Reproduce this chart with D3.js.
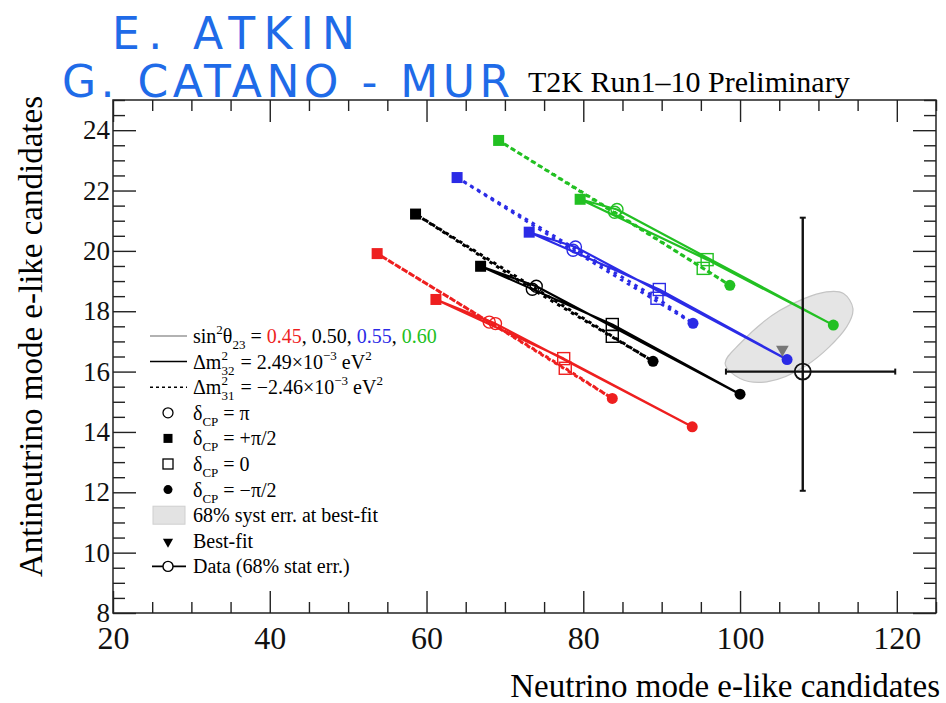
<!DOCTYPE html>
<html>
<head>
<meta charset="utf-8">
<script src="https://cdn.jsdelivr.net/npm/d3@7"></script>
<style>
  body { margin: 0; background: #fff; }
  svg { display: block; }
  text { font-family: "Liberation Serif", "Times New Roman", serif; white-space: pre; }
</style>
</head>
<body>
<div id="chart"></div>
<script>
// sin^2(theta23) hypotheses, one contour colour each
var sin2Labels = ["0.45", "0.50", "0.55", "0.60"];
var sin2Colors = ["#ee1f1f", "#000000", "#2b2be6", "#22c022"];

// points on each contour, in this order of delta_CP
var deltaOrder = ["+pi/2", "pi", "-pi/2", "0"];

// normal ordering (solid), dm2_32 = 2.49e-3
var noNu = [
  [61.2, 68.8, 93.9, 77.5],
  [66.9, 74.0, 100.0, 83.7],
  [73.1, 79.0, 106.0, 89.7],
  [79.6, 84.3, 111.9, 95.8]
];
var noNubar = [
  [18.39, 17.59, 14.17, 16.43],
  [19.49, 18.83, 15.25, 17.56],
  [20.62, 20.13, 16.40, 18.72],
  [21.71, 21.37, 17.54, 19.71]
];

// inverted ordering (dashed), dm2_31 = -2.46e-3
var ioNu = [
  [53.7, 68.0, 83.7, 77.7],
  [58.6, 73.5, 88.9, 83.7],
  [63.9, 78.7, 94.0, 89.4],
  [69.2, 84.0, 98.7, 95.3]
];
var ioNubar = [
  [19.91, 17.64, 15.11, 16.11],
  [21.22, 18.73, 16.34, 17.17],
  [22.43, 20.02, 17.60, 18.43],
  [23.66, 21.28, 18.86, 19.42]
];

// 68% syst err outline at best fit
var systNu = [98.1, 100.0, 103.4, 108.5, 113.6, 114.4, 113.2, 111.0, 105.1, 100.0];
var systNubar = [16.27, 15.77, 15.66, 16.21, 17.48, 18.09, 18.59, 18.64, 18.03, 16.93];

var bestFit = [105.4, 16.77];
var dataPoint = [108, 16];
var dataNuErr = [98.2, 119.8];
var dataNubarErr = [12.05, 21.1];

var xMajor = [20, 40, 60, 80, 100, 120];
var yMajor = [8, 10, 12, 14, 16, 18, 20, 22, 24];

(function() {
  var W = 946, H = 703;
  var padL = 113, padR = 936, padT = 100, padB = 613;

  var svg = d3.select("#chart").append("svg")
    .attr("width", W)
    .attr("height", H);

  var x = d3.scaleLinear().domain([20, 125]).range([padL, padR]);
  var y = d3.scaleLinear().domain([8, 25]).range([padB, padT]);

  // handwritten names
  svg.append("text")
    .attr("x", 112).attr("y", 49)
    .attr("textLength", 243).attr("lengthAdjust", "spacing")
    .style("font-family", "DejaVu Sans").style("font-size", "44px")
    .attr("fill", "#1f6be8")
    .text("E. ATKIN");
  svg.append("text")
    .attr("x", 62).attr("y", 97)
    .attr("textLength", 448).attr("lengthAdjust", "spacing")
    .style("font-family", "DejaVu Sans").style("font-size", "44px")
    .attr("fill", "#1f6be8")
    .text("G. CATANO - MUR");

  svg.append("text")
    .attr("x", 528).attr("y", 92)
    .style("font-size", "30px")
    .text("T2K Run1\u201310 Preliminary");

  svg.append("clipPath").attr("id", "frameclip")
    .append("rect")
    .attr("x", padL).attr("y", padT)
    .attr("width", padR - padL).attr("height", padB - padT);

  var plot = svg.append("g").attr("clip-path", "url(#frameclip)");

  // syst ellipse
  var systPts = systNu.map(function(v, i) { return [v, systNubar[i]]; });
  plot.append("path")
    .attr("d", d3.line().x(function(d) { return x(d[0]); }).y(function(d) { return y(d[1]); })
      .curve(d3.curveCatmullRomClosed)(systPts))
    .attr("fill", "#e5e5e5")
    .attr("stroke", "#c4c4c4")
    .attr("stroke-width", 1.2);

  var contour = d3.line()
    .x(function(d) { return x(d[0]); })
    .y(function(d) { return y(d[1]); })
    .curve(d3.curveLinearClosed);

  var drawMarker = function(g, px, py, kind, color) {
    if (kind == "+pi/2") {
      g.append("rect").attr("x", px - 5.5).attr("y", py - 5.5)
        .attr("width", 11).attr("height", 11).attr("fill", color);
    } else if (kind == "-pi/2") {
      g.append("circle").attr("cx", px).attr("cy", py).attr("r", 5.5).attr("fill", color);
    } else if (kind == "pi") {
      g.append("circle").attr("cx", px).attr("cy", py).attr("r", 6)
        .attr("fill", "none").attr("stroke", color).attr("stroke-width", 1.4);
    } else {
      g.append("rect").attr("x", px - 6).attr("y", py - 6)
        .attr("width", 12).attr("height", 12)
        .attr("fill", "none").attr("stroke", color).attr("stroke-width", 1.4);
    }
  };

  for (var c = 0; c < sin2Labels.length; c++) {
    var col = sin2Colors[c];
    var io = ioNu[c].map(function(v, i) { return [v, ioNubar[c][i]]; });
    var no = noNu[c].map(function(v, i) { return [v, noNubar[c][i]]; });

    plot.append("path")
      .attr("d", contour(io))
      .attr("fill", "none")
      .attr("stroke", col)
      .attr("stroke-width", 3)
      .attr("stroke-dasharray", "3.5,4.5");
    plot.append("path")
      .attr("d", contour(no))
      .attr("fill", "none")
      .attr("stroke", col)
      .attr("stroke-width", 2.2)
      .attr("stroke-linejoin", "round");

    for (var k = 0; k < deltaOrder.length; k++) {
      drawMarker(plot, x(io[k][0]), y(io[k][1]), deltaOrder[k], col);
      drawMarker(plot, x(no[k][0]), y(no[k][1]), deltaOrder[k], col);
    }
  }

  // best fit
  plot.append("path")
    .attr("d", d3.symbol().type(d3.symbolTriangle).size(70)())
    .attr("transform", "translate(" + x(bestFit[0]) + "," + (y(bestFit[1]) + 1) + ") rotate(180)")
    .attr("fill", "#777");

  // data with stat error
  var dx = x(dataPoint[0]), dy = y(dataPoint[1]);
  plot.append("line")
    .attr("x1", x(dataNuErr[0])).attr("x2", x(dataNuErr[1]))
    .attr("y1", dy).attr("y2", dy)
    .attr("stroke", "#111").attr("stroke-width", 2.4);
  plot.append("line")
    .attr("x1", dx).attr("x2", dx)
    .attr("y1", y(dataNubarErr[0])).attr("y2", y(dataNubarErr[1]))
    .attr("stroke", "#111").attr("stroke-width", 2.4);
  [[x(dataNuErr[0]), dy, 0], [x(dataNuErr[1]), dy, 0], [dx, y(dataNubarErr[0]), 1], [dx, y(dataNubarErr[1]), 1]].forEach(function(e) {
    plot.append("line")
      .attr("x1", e[2] ? e[0] - 3 : e[0]).attr("x2", e[2] ? e[0] + 3 : e[0])
      .attr("y1", e[2] ? e[1] : e[1] - 3).attr("y2", e[2] ? e[1] : e[1] + 3)
      .attr("stroke", "#111").attr("stroke-width", 2);
  });
  plot.append("circle")
    .attr("cx", dx).attr("cy", dy).attr("r", 8)
    .attr("fill", "none").attr("stroke", "#111").attr("stroke-width", 1.8);

  // axes, ticks inward on all four sides
  var xMinor = d3.range(20, 125.1, 5).filter(function(v) { return xMajor.indexOf(v) < 0; });
  var yMinor = d3.range(8, 25.01, 0.5).filter(function(v) { return yMajor.indexOf(v) < 0; });

  var styleAxis = function(g, fs) {
    g.select(".domain").remove();
    g.selectAll("line").attr("stroke", "#222").attr("stroke-width", 1.4);
    g.selectAll("text")
      .style("font-family", "Liberation Serif")
      .style("font-size", fs + "px")
      .attr("fill", "#111");
  };

  svg.append("g").attr("transform", "translate(0," + padB + ")")
    .call(d3.axisBottom(x).tickValues(xMajor).tickSize(-22).tickPadding(13))
    .call(styleAxis, 32);
  svg.append("g").attr("transform", "translate(0," + padB + ")")
    .call(d3.axisBottom(x).tickValues(xMinor).tickSize(-11).tickFormat(""))
    .call(styleAxis, 32);
  svg.append("g").attr("transform", "translate(0," + padT + ")")
    .call(d3.axisTop(x).tickValues(xMajor).tickSize(-22).tickFormat(""))
    .call(styleAxis, 32);
  svg.append("g").attr("transform", "translate(0," + padT + ")")
    .call(d3.axisTop(x).tickValues(xMinor).tickSize(-11).tickFormat(""))
    .call(styleAxis, 32);

  svg.append("g").attr("transform", "translate(" + padL + ",0)")
    .call(d3.axisLeft(y).tickValues(yMajor).tickSize(-23).tickPadding(3))
    .call(styleAxis, 27);
  svg.append("g").attr("transform", "translate(" + padL + ",0)")
    .call(d3.axisLeft(y).tickValues(yMinor).tickSize(-12).tickFormat(""))
    .call(styleAxis, 27);
  svg.append("g").attr("transform", "translate(" + padR + ",0)")
    .call(d3.axisRight(y).tickValues(yMajor).tickSize(-23).tickFormat(""))
    .call(styleAxis, 27);
  svg.append("g").attr("transform", "translate(" + padR + ",0)")
    .call(d3.axisRight(y).tickValues(yMinor).tickSize(-12).tickFormat(""))
    .call(styleAxis, 27);

  svg.append("rect")
    .attr("x", padL).attr("y", padT)
    .attr("width", padR - padL).attr("height", padB - padT)
    .attr("fill", "none").attr("stroke", "#222").attr("stroke-width", 1.5);

  // axis titles
  svg.append("text")
    .attr("x", 940).attr("y", 697)
    .attr("text-anchor", "end")
    .style("font-size", "33px")
    .text("Neutrino mode e-like candidates");
  svg.append("text")
    .attr("transform", "translate(42,96) rotate(-90)")
    .attr("text-anchor", "end")
    .style("font-size", "33px")
    .text("Antineutrino mode e-like candidates");

  // legend
  var leg = svg.append("g");
  var rowY = function(i) { return 336 + i * 25.6; };

  var rich = function(g, x0, y0, parts) {
    var cx = x0;
    parts.forEach(function(p) {
      if (p.stack) {
        var a = g.append("text").attr("x", cx).attr("y", y0 - 9).style("font-size", "13px").text(p.stack[0]);
        var b = g.append("text").attr("x", cx).attr("y", y0 + 6).style("font-size", "13px").text(p.stack[1]);
        cx += Math.max(a.node().getComputedTextLength(), b.node().getComputedTextLength()) + 1;
        return;
      }
      var small = p.sup || p.sub;
      var t = g.append("text")
        .attr("x", cx)
        .attr("y", y0 + (p.sup ? -9 : p.sub ? 6 : 0))
        .style("font-size", small ? "13px" : "20px")
        .attr("fill", p.fill || "#000")
        .text(p.sup || p.sub || p.t);
      cx += t.node().getComputedTextLength();
    });
  };

  var tx = 193, base = 7;

  leg.append("line").attr("x1", 150).attr("x2", 187).attr("y1", rowY(0)).attr("y2", rowY(0))
    .attr("stroke", "#999").attr("stroke-width", 1.5);
  var row0 = [{t: "sin"}, {sup: "2"}, {t: "\u03b8"}, {sub: "23"}, {t: " = "}];
  sin2Labels.forEach(function(s, i) {
    row0.push({t: s, fill: i == 1 ? "#000" : sin2Colors[i]});
    if (i < sin2Labels.length - 1) row0.push({t: ", "});
  });
  rich(leg, tx, rowY(0) + base, row0);

  leg.append("line").attr("x1", 150).attr("x2", 187).attr("y1", rowY(1)).attr("y2", rowY(1))
    .attr("stroke", "#000").attr("stroke-width", 1.5);
  rich(leg, tx, rowY(1) + base, [{t: "\u0394m"}, {stack: ["2", "32"]}, {t: " = 2.49\u00d710"}, {sup: "\u22123"}, {t: " eV"}, {sup: "2"}]);

  leg.append("line").attr("x1", 150).attr("x2", 187).attr("y1", rowY(2)).attr("y2", rowY(2))
    .attr("stroke", "#000").attr("stroke-width", 1.5).attr("stroke-dasharray", "3,3");
  rich(leg, tx, rowY(2) + base, [{t: "\u0394m"}, {stack: ["2", "31"]}, {t: " = \u22122.46\u00d710"}, {sup: "\u22123"}, {t: " eV"}, {sup: "2"}]);

  var deltaText = ["\u03c0", "+\u03c0/2", "0", "\u2212\u03c0/2"];
  var deltaKind = ["pi", "+pi/2", "0", "-pi/2"];
  deltaKind.forEach(function(kd, i) {
    var ry = rowY(3 + i);
    if (kd == "+pi/2") {
      leg.append("rect").attr("x", 168 - 4.5).attr("y", ry - 4.5).attr("width", 9).attr("height", 9).attr("fill", "#000");
    } else if (kd == "-pi/2") {
      leg.append("circle").attr("cx", 168).attr("cy", ry).attr("r", 4.5).attr("fill", "#000");
    } else if (kd == "pi") {
      leg.append("circle").attr("cx", 168).attr("cy", ry).attr("r", 5).attr("fill", "none").attr("stroke", "#000").attr("stroke-width", 1.3);
    } else {
      leg.append("rect").attr("x", 168 - 5).attr("y", ry - 5).attr("width", 10).attr("height", 10).attr("fill", "none").attr("stroke", "#000").attr("stroke-width", 1.3);
    }
    rich(leg, tx, ry + base, [{t: "\u03b4"}, {sub: "CP"}, {t: " = " + deltaText[i]}]);
  });

  leg.append("rect").attr("x", 153).attr("y", rowY(7) - 9).attr("width", 32).attr("height", 18)
    .attr("fill", "#e3e3e3").attr("stroke", "#cfcfcf");
  rich(leg, tx, rowY(7) + base, [{t: "68% syst err. at best-fit"}]);

  leg.append("path")
    .attr("d", d3.symbol().type(d3.symbolTriangle).size(45)())
    .attr("transform", "translate(168," + (rowY(8) + 1) + ") rotate(180)")
    .attr("fill", "#000");
  rich(leg, tx, rowY(8) + base, [{t: "Best-fit"}]);

  leg.append("line").attr("x1", 152).attr("x2", 186).attr("y1", rowY(9)).attr("y2", rowY(9))
    .attr("stroke", "#000").attr("stroke-width", 1.6);
  leg.append("circle").attr("cx", 168).attr("cy", rowY(9)).attr("r", 5)
    .attr("fill", "#fff").attr("stroke", "#000").attr("stroke-width", 1.4);
  rich(leg, tx, rowY(9) + base, [{t: "Data (68% stat err.)"}]);
})();
</script>
</body>
</html>
